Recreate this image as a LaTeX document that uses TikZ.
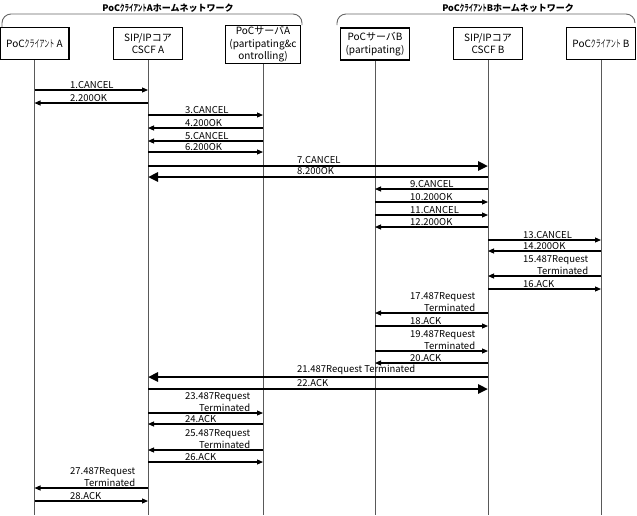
\documentclass[tikz,border=0pt]{standalone}
\usepackage{fontspec}
\setmainfont{Noto Sans CJK JP}
\newcommand{\halfkana}[1]{\scalebox{0.5}[1]{#1}}
\usetikzlibrary{arrows.meta}

\begin{document}
\begin{tikzpicture}[
    x=1pt, y=-1pt,
    font=\fontsize{9.5}{12}\selectfont,
    ent/.style={
        draw,
        font=\fontsize{10}{12.5}\selectfont,
        line width=1.3pt,
        minimum width=69pt,
        minimum height=32pt,
        inner sep=1pt,
        align=center
    },
    life/.style={draw=black!65, line width=0.8pt},
    msg/.style={line width=1.1pt, -{Triangle[length=6pt,width=5pt]}},
    bigmsg/.style={line width=2.6pt, -{Triangle[length=10pt,width=9pt]}},
    lbl/.style={anchor=south west, inner sep=0pt, align=right},
    net/.style={draw=black!60, line width=0.9pt, rounded corners=9pt},
    nettitle/.style={font=\fontsize{9}{11}\selectfont\bfseries,
                     anchor=south, inner sep=0pt}
]
\useasboundingbox (0,0) rectangle (637,515);

% home networks
\draw[net] (2,27) -- (2,14) -- (302,14) -- (302,25);
\node[nettitle] (neta) at (168,13) {PoC\halfkana{クライアント}Aホームネットワーク};
\draw[net] (337,25) -- (337,14) -- (635,14) -- (635,23);
\node[nettitle] (netb) at (508,13) {PoC\halfkana{クライアント}Bホームネットワーク};

% entities
\node[ent] (cla) at (34.5,43.5) {PoC\halfkana{クライアント} A};
\node[ent] (cscfa) at (148,43.5) {SIP/IPコア\\CSCF A};
\node[ent, minimum width=75pt, minimum height=35pt] (srva) at (263,44.5)
    {PoCサーバA\\(partipating\&c\\ontrolling)};
\node[ent] (srvb) at (375,44) {PoCサーバB\\(partipating)};
\node[ent] (cscfb) at (488,43.5) {SIP/IPコア\\CSCF B};
\node[ent] (clb) at (601,43.5) {PoC\halfkana{クライアント} B};

\coordinate (bottom) at (0,515);
\foreach \e in {cla,cscfa,srva,srvb,cscfb,clb}
    \draw[life] (\e.south) -- (\e.south |- bottom);

% messages
\foreach \y/\a/\b/\tx/\txt [count=\i] in {
    90/cla/cscfa/70/{1.CANCEL},
    103/cscfa/cla/70/{2.200OK},
    115/cscfa/srva/185/{3.CANCEL},
    128/srva/cscfa/185/{4.200OK},
    141/srva/cscfa/185/{5.CANCEL},
    152/cscfa/srva/185/{6.200OK},
    189/cscfb/srvb/410/{9.CANCEL},
    202/srvb/cscfb/410/{10.200OK},
    215/srvb/cscfb/410/{11.CANCEL},
    227/cscfb/srvb/410/{12.200OK},
    240/cscfb/clb/523/{13.CANCEL},
    251/clb/cscfb/523/{14.200OK},
    276/clb/cscfb/523/{15.487Request\\Terminated},
    289/cscfb/clb/523/{16.ACK},
    313/cscfb/srvb/410/{17.487Request\\Terminated},
    326/srvb/cscfb/410/{18.ACK},
    351/srvb/cscfb/410/{19.487Request\\Terminated},
    363/cscfb/srvb/410/{20.ACK},
    413/cscfa/srva/185/{23.487Request\\Terminated},
    424/srva/cscfa/185/{24.ACK},
    450/srva/cscfa/185/{25.487Request\\Terminated},
    462/cscfa/srva/185/{26.ACK},
    488/cscfa/cla/70/{27.487Request\\Terminated},
    501/cla/cscfa/70/{28.ACK}} {
    \draw[msg] (\a |- 0,\y) -- (\b |- 0,\y);
    \node[lbl] (m\i) at (\tx,\y-1.5) {\txt};
}

% messages between the two cores
\foreach \y/\a/\b/\txt [count=\i] in {
    166/cscfa/cscfb/{7.CANCEL},
    177/cscfb/cscfa/{8.200OK},
    377/cscfb/cscfa/{21.487Request Terminated},
    389/cscfa/cscfb/{22.ACK}} {
    \draw[bigmsg] (\a |- 0,\y) -- (\b |- 0,\y);
    \node[lbl] (big\i) at (297,\y-2.5) {\txt};
}

\end{tikzpicture}
\end{document}
